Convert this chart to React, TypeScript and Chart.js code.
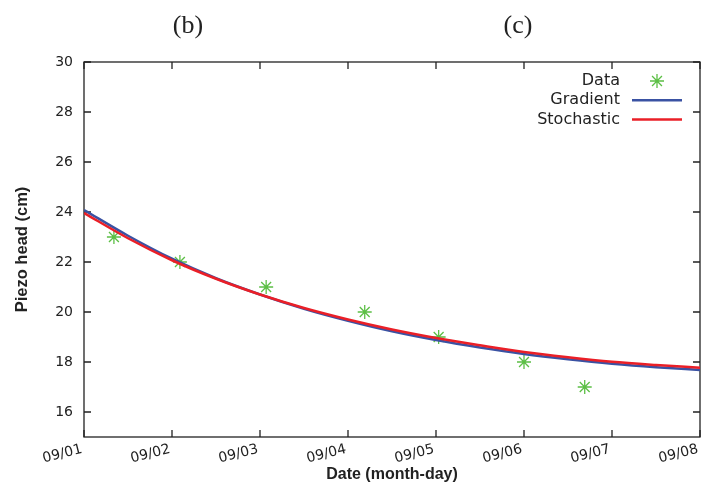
import React, { useEffect, useRef } from 'react';
import { Chart, registerables } from 'chart.js';

Chart.register(...registerables);

// ---- data ----
const dateLabels = ['09/01', '09/02', '09/03', '09/04', '09/05', '09/06', '09/07', '09/08'];
const dateTicks = [0, 1, 2, 3, 4, 5, 6, 7];
const headTicks = [16, 18, 20, 22, 24, 26, 28, 30];
const seriesLabels = ['Data', 'Gradient', 'Stochastic'];
const panelLabels = ['(b)', '(c)'];

const dataDays = [0.34, 1.09, 2.07, 3.19, 4.03, 5.0, 5.69];
const dataHead = [23, 22, 21, 20, 19, 18, 17];

const curveDays = [0, 0.5, 1, 1.5, 2, 2.5, 3, 3.5, 4, 4.5, 5, 5.5, 6, 6.5, 7];
const gradientHead = [24.08, 23.05, 22.13, 21.35, 20.7, 20.13, 19.65, 19.23, 18.88, 18.58, 18.32, 18.11, 17.93, 17.79, 17.68];
const stochasticHead = [23.96, 22.95, 22.07, 21.33, 20.7, 20.16, 19.7, 19.3, 18.96, 18.67, 18.4, 18.19, 18.01, 17.88, 17.77];

const GREEN = '#5cbf45';
const BLUE = '#3a52a3';
const RED = '#ea1f27';
const INK = '#222222';

function drawStar(ctx: CanvasRenderingContext2D, x: number, y: number, r: number) {
  const d = r * Math.SQRT1_2;
  ctx.beginPath();
  ctx.moveTo(x - r, y); ctx.lineTo(x + r, y);
  ctx.moveTo(x, y - r); ctx.lineTo(x, y + r);
  ctx.moveTo(x - d, y - d); ctx.lineTo(x + d, y + d);
  ctx.moveTo(x - d, y + d); ctx.lineTo(x + d, y - d);
  ctx.stroke();
}

const framePlugin = {
  id: 'gnuFrame',
  beforeDatasetsDraw(chart: any) {
    const { ctx, chartArea: a, scales } = chart;
    const xs = scales.x;
    const ys = scales.y;
    const L = 7;
    ctx.save();
    ctx.strokeStyle = INK;
    ctx.lineWidth = 1.3;
    ctx.strokeRect(a.left, a.top, a.right - a.left, a.bottom - a.top);
    ctx.beginPath();
    xs.ticks.forEach((t: any) => {
      const px = xs.getPixelForValue(t.value);
      ctx.moveTo(px, a.bottom); ctx.lineTo(px, a.bottom - L);
      ctx.moveTo(px, a.top); ctx.lineTo(px, a.top + L);
    });
    ys.ticks.forEach((t: any) => {
      const py = ys.getPixelForValue(t.value);
      ctx.moveTo(a.left, py); ctx.lineTo(a.left + L, py);
      ctx.moveTo(a.right, py); ctx.lineTo(a.right - L, py);
    });
    ctx.stroke();
    ctx.restore();
  },
  afterDraw(chart: any) {
    const { ctx, chartArea: a } = chart;
    ctx.save();
    ctx.font = '16px "DejaVu Sans"';
    ctx.textAlign = 'right';
    ctx.textBaseline = 'middle';
    chart.data.datasets.forEach((d: any, i: number) => {
      const yy = a.top + 19 + i * 19.3;
      ctx.fillStyle = INK;
      ctx.fillText(d.label, a.right - 80, yy);
      if (d.showLine) {
        ctx.strokeStyle = d.borderColor;
        ctx.lineWidth = 2.5;
        ctx.beginPath();
        ctx.moveTo(a.right - 68, yy);
        ctx.lineTo(a.right - 18, yy);
        ctx.stroke();
      } else {
        ctx.strokeStyle = d.pointBorderColor;
        ctx.lineWidth = 1.3;
        drawStar(ctx, a.right - 43, yy, 7);
      }
    });
    ctx.restore();
  },
};

export default function App() {
  const ref = useRef<HTMLCanvasElement>(null);

  useEffect(() => {
    if (!ref.current) return;
    const chart = new Chart(ref.current, {
      type: 'scatter',
      data: {
        datasets: [
          {
            label: seriesLabels[0],
            data: dataDays.map((d, i) => ({ x: d, y: dataHead[i] })),
            showLine: false,
            pointStyle: 'star',
            pointRadius: 7,
            pointHoverRadius: 7,
            pointBorderWidth: 1.3,
            pointBorderColor: GREEN,
            pointBackgroundColor: GREEN,
            order: 3,
          },
          {
            label: seriesLabels[1],
            data: curveDays.map((d, i) => ({ x: d, y: gradientHead[i] })),
            showLine: true,
            borderColor: BLUE,
            borderWidth: 2.5,
            pointRadius: 0,
            cubicInterpolationMode: 'monotone',
            order: 2,
          },
          {
            label: seriesLabels[2],
            data: curveDays.map((d, i) => ({ x: d, y: stochasticHead[i] })),
            showLine: true,
            borderColor: RED,
            borderWidth: 2.5,
            pointRadius: 0,
            cubicInterpolationMode: 'monotone',
            order: 1,
          },
        ],
      } as any,
      options: {
        animation: false,
        responsive: false,
        devicePixelRatio: 1,
        layout: { autoPadding: false, padding: { top: 62, right: 2, left: 0, bottom: 0 } },
        plugins: { legend: { display: false }, tooltip: { enabled: false } },
        scales: {
          x: {
            type: 'linear',
            min: 0,
            max: 7,
            afterBuildTicks: (s: any) => { s.ticks = dateTicks.map((v) => ({ value: v })); },
            afterFit: (s: any) => { s.height = 56; s.paddingLeft = 0; s.paddingRight = 0; },
            grid: { display: false, drawTicks: false },
            border: { display: false },
            ticks: {
              autoSkip: false,
              minRotation: 14,
              maxRotation: 14,
              padding: 4,
              labelOffset: -2,
              color: INK,
              font: { family: 'DejaVu Sans', size: 14 },
              callback: (v: any) => dateLabels[dateTicks.indexOf(Number(v))] ?? '',
            },
            title: {
              display: true,
              text: 'Date (month-day)',
              color: INK,
              font: { family: 'Liberation Sans', size: 16, weight: 'bold' },
              padding: { top: 0, bottom: 9 },
            },
          },
          y: {
            type: 'linear',
            min: 15,
            max: 30,
            afterBuildTicks: (s: any) => { s.ticks = headTicks.map((v) => ({ value: v })); },
            afterFit: (s: any) => { s.width = 84; s.paddingTop = 0; s.paddingBottom = 0; },
            grid: { display: false, drawTicks: false },
            border: { display: false },
            ticks: {
              padding: 11,
              color: INK,
              font: { family: 'DejaVu Sans', size: 14 },
              callback: (v: any) => String(v),
            },
            title: {
              display: true,
              text: 'Piezo head (cm)',
              color: INK,
              font: { family: 'Liberation Sans', size: 16.5, weight: 'bold' },
              padding: { top: 13, bottom: 0 },
            },
          },
        },
      } as any,
      plugins: [framePlugin],
    });
    return () => chart.destroy();
  }, []);

  const panelX = [188, 518];

  return (
    <div style={{ position: 'fixed', left: 0, top: 0, width: 702, height: 493, background: '#fff' }}>
      <canvas ref={ref} width={702} height={493} style={{ position: 'absolute', left: 0, top: 0, width: 702, height: 493 }} />
      {panelLabels.map((t, i) => (
        <div
          key={t}
          style={{
            position: 'absolute',
            left: panelX[i] - 40,
            width: 80,
            top: 9,
            textAlign: 'center',
            fontFamily: '"Liberation Serif", "Times New Roman", serif',
            fontSize: 26,
            lineHeight: '32px',
            color: '#222',
          }}
        >
          {t}
        </div>
      ))}
    </div>
  );
}
